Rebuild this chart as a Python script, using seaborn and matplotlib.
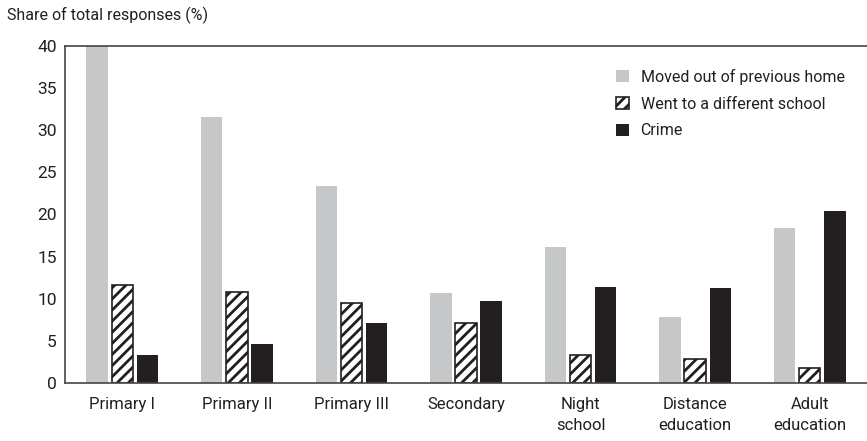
import matplotlib
matplotlib.use("Agg")
from matplotlib import pyplot as plt
import pandas as pd
import seaborn as sns

categories = ["Primary I", "Primary II", "Primary III", "Secondary",
              "Night\nschool", "Distance\neducation", "Adult\neducation"]
moved_out = [40.0, 31.6, 23.4, 10.7, 16.1, 7.9, 18.4]
diff_school = [11.6, 10.8, 9.5, 7.1, 3.3, 2.9, 1.8]
crime = [3.3, 4.7, 7.1, 9.7, 11.4, 11.3, 20.4]
series_names = ["Moved out of previous home", "Went to a different school", "Crime"]

df = pd.DataFrame({
    "category": categories * 3,
    "series": [series_names[0]] * 7 + [series_names[1]] * 7 + [series_names[2]] * 7,
    "value": moved_out + diff_school + crime,
})

sns.set_style("white")
plt.rcParams["font.family"] = ["Liberation Sans Narrow", "Roboto", "DejaVu Sans"]
plt.rcParams["hatch.linewidth"] = 2.0
plt.rcParams["text.color"] = "#231f20"
plt.rcParams["xtick.color"] = "#231f20"
plt.rcParams["ytick.color"] = "#231f20"

fig = plt.figure(figsize=(8.67, 4.41), dpi=100)
ax = fig.add_axes([65 / 867, 1 - 383.3 / 441, (867 - 65) / 867, (383.3 - 45.7) / 441])

palette = {series_names[0]: "#c6c7c9", series_names[1]: "white", series_names[2]: "#231f20"}
sns.barplot(data=df, x="category", y="value", hue="series", palette=palette,
            width=0.66, gap=0.15, ax=ax, legend=False, saturation=1, linewidth=0)

# hatched middle series
for bar in ax.containers[1]:
    bar.set_hatch("///")
    bar.set_edgecolor("#231f20")
    bar.set_linewidth(1.2)

ax.set_xlim(-0.5, 6.5)
ax.set_ylim(0, 40)
ax.set_yticks(range(0, 41, 5))
ax.set_xlabel("")
ax.set_ylabel("")
ax.tick_params(axis="y", direction="in", length=8, width=1, color="#333333",
               labelsize=12.5, pad=6)
ax.tick_params(axis="x", length=0, labelsize=12, pad=10)
for lbl in ax.get_xticklabels():
    lbl.set_linespacing(1.45)
for side in ["left", "bottom", "top"]:
    ax.spines[side].set_color("#444444")
    ax.spines[side].set_linewidth(1.2)
ax.spines["right"].set_visible(False)

fig.text(7 / 867, 1 - 15 / 441, "Share of total responses (%)", fontsize=11.5,
         va="center", ha="left")

handles = [ax.containers[0][0], ax.containers[1][0], ax.containers[2][0]]
ax.legend(handles, series_names, loc="upper right", bbox_to_anchor=(0.99, 0.975),
          frameon=False, fontsize=11.5, handlelength=0.85, handleheight=0.85,
          handletextpad=0.7, labelspacing=0.75)

fig.savefig("out.png", dpi=100)
